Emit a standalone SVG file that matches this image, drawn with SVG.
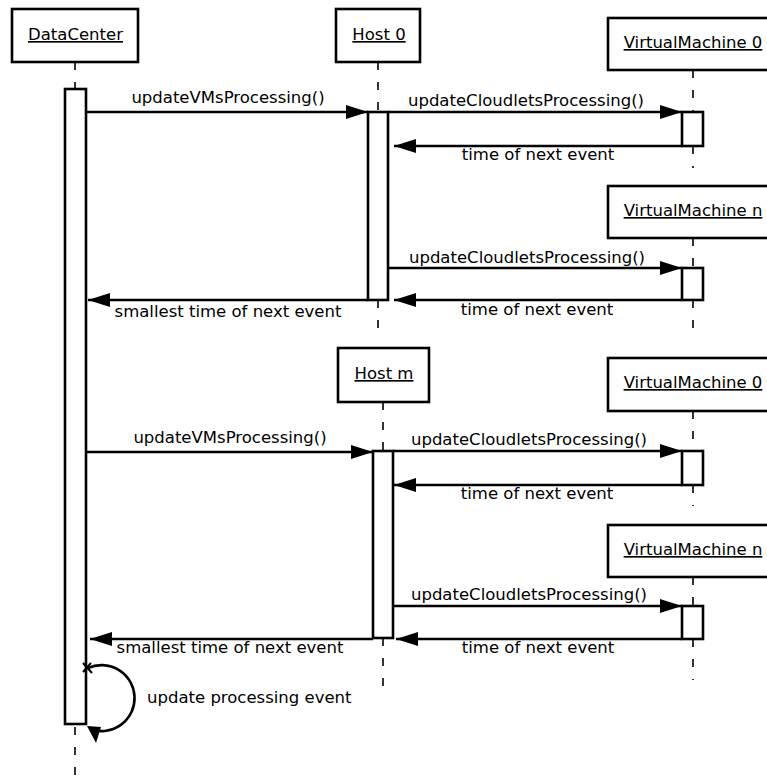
<svg xmlns="http://www.w3.org/2000/svg" width="767" height="782" viewBox="0 0 767 782">
<style>
.box{fill:#fff;stroke:#000;stroke-width:2.6}
.act{fill:#fff;stroke:#000;stroke-width:2.6}
.life{stroke:#000;stroke-width:1.6;stroke-dasharray:8,12;fill:none}
.msg{stroke:#000;stroke-width:2.6;fill:none;marker-end:url(#ah)}
.lbl{font-family:"DejaVu Sans","Liberation Sans",sans-serif;font-size:16.5px;fill:#000}
.name{font-family:"DejaVu Sans","Liberation Sans",sans-serif;font-size:16.5px;fill:#000;text-anchor:middle;text-decoration:underline}
</style>
<defs>
<marker id="ah" viewBox="0 0 22 14" refX="22" refY="7" markerWidth="22" markerHeight="14" markerUnits="userSpaceOnUse" orient="auto">
<path d="M0,0 L22,7 L0,14 z" fill="#000"/>
</marker>
</defs>
<rect width="767" height="782" fill="#fff"/>
<g id="lifelines">
<line class="life" x1="75" y1="62" x2="75" y2="89"/>
<line class="life" x1="75" y1="727" x2="75" y2="782"/>
<line class="life" x1="378" y1="62" x2="378" y2="112"/>
<line class="life" x1="378" y1="300" x2="378" y2="330"/>
<line class="life" x1="693" y1="70" x2="693" y2="112"/>
<line class="life" x1="693" y1="146" x2="693" y2="168"/>
<line class="life" x1="693" y1="238" x2="693" y2="268"/>
<line class="life" x1="693" y1="300" x2="693" y2="332"/>
<line class="life" x1="383" y1="402" x2="383" y2="451"/>
<line class="life" x1="383" y1="638" x2="383" y2="692"/>
<line class="life" x1="693" y1="411" x2="693" y2="451"/>
<line class="life" x1="693" y1="485" x2="693" y2="506"/>
<line class="life" x1="693" y1="577" x2="693" y2="606"/>
<line class="life" x1="693" y1="639" x2="693" y2="680"/>
</g>
<g id="DataCenter">
<rect class="box" x="12" y="9" width="126" height="53"/>
<text class="name" x="75.5" y="40">DataCenter</text>
<rect class="act" x="65" y="89" width="21" height="635"/>
</g>
<g id="Host0">
<rect class="box" x="336" y="9" width="84" height="53"/>
<text class="name" x="379" y="40">Host 0</text>
<rect class="act" x="368" y="112" width="20" height="188"/>
</g>
<g id="VM0a">
<rect class="box" x="608" y="18" width="170" height="52"/>
<text class="name" x="693" y="48">VirtualMachine 0</text>
<rect class="act" x="682" y="112" width="21" height="34"/>
</g>
<g id="VMna">
<rect class="box" x="608" y="186" width="170" height="52"/>
<text class="name" x="693" y="216">VirtualMachine n</text>
<rect class="act" x="682" y="268" width="21" height="32"/>
</g>
<g id="Hostm">
<rect class="box" x="338" y="348" width="91" height="54"/>
<text class="name" x="384" y="379">Host m</text>
<rect class="act" x="373" y="451" width="20" height="187"/>
</g>
<g id="VM0b">
<rect class="box" x="608" y="358" width="170" height="53"/>
<text class="name" x="693" y="388">VirtualMachine 0</text>
<rect class="act" x="682" y="451" width="21" height="34"/>
</g>
<g id="VMnb">
<rect class="box" x="608" y="525" width="170" height="52"/>
<text class="name" x="693" y="555">VirtualMachine n</text>
<rect class="act" x="682" y="606" width="21" height="33"/>
</g>
<g id="connectors">
<line class="msg" x1="86" y1="112" x2="368" y2="112"/>
<line class="msg" x1="388" y1="112" x2="682" y2="112"/>
<line class="msg" x1="682" y1="146" x2="394" y2="146"/>
<line class="msg" x1="388" y1="268" x2="682" y2="268"/>
<line class="msg" x1="682" y1="300" x2="394" y2="300"/>
<line class="msg" x1="368" y1="300" x2="88" y2="300"/>
<line class="msg" x1="86" y1="452" x2="373" y2="452"/>
<line class="msg" x1="393" y1="451" x2="682" y2="451"/>
<line class="msg" x1="682" y1="485" x2="394" y2="485"/>
<line class="msg" x1="393" y1="606" x2="682" y2="606"/>
<line class="msg" x1="682" y1="639" x2="396" y2="639"/>
<line class="msg" x1="373" y1="639" x2="90" y2="639"/>
<path d="M88 668 A33 33 0 1 1 90 729" fill="none" stroke="#000" stroke-width="2.6"/>
<path d="M83 663 L92 673 M91 663 L83 672" fill="none" stroke="#000" stroke-width="2"/>
<polygon points="87,726 101,727 96,743" fill="#000"/>
</g>
<g id="labels">
<text class="lbl" x="228" y="103" text-anchor="middle">updateVMsProcessing()</text>
<text class="lbl" x="526" y="106" text-anchor="middle">updateCloudletsProcessing()</text>
<text class="lbl" x="538" y="160" text-anchor="middle">time of next event</text>
<text class="lbl" x="527" y="263" text-anchor="middle">updateCloudletsProcessing()</text>
<text class="lbl" x="537" y="315" text-anchor="middle">time of next event</text>
<text class="lbl" x="228" y="317" text-anchor="middle">smallest time of next event</text>
<text class="lbl" x="230" y="443" text-anchor="middle">updateVMsProcessing()</text>
<text class="lbl" x="529" y="445" text-anchor="middle">updateCloudletsProcessing()</text>
<text class="lbl" x="537" y="499" text-anchor="middle">time of next event</text>
<text class="lbl" x="529" y="600" text-anchor="middle">updateCloudletsProcessing()</text>
<text class="lbl" x="538" y="653" text-anchor="middle">time of next event</text>
<text class="lbl" x="230" y="653" text-anchor="middle">smallest time of next event</text>
<text class="lbl" x="147" y="703">update processing event</text>
</g>
</svg>
